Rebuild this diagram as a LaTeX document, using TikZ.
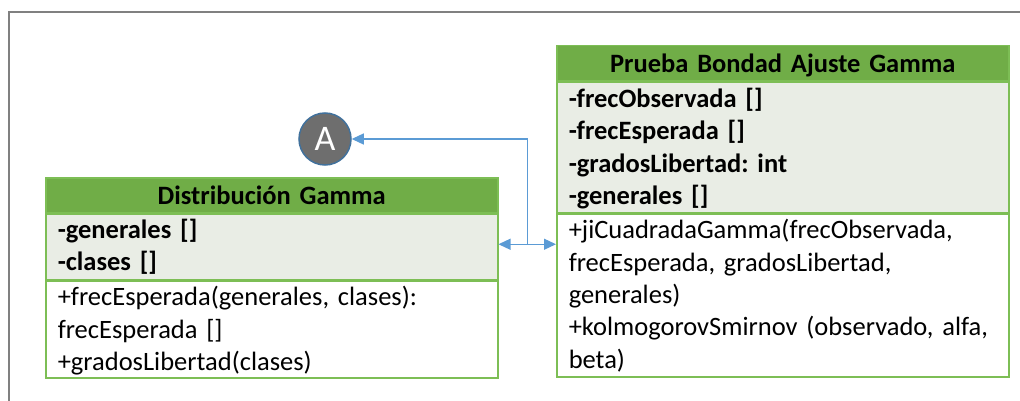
\documentclass[tikz,border=0pt]{standalone}
\usepackage{fontspec}
\setmainfont{Carlito}
\usetikzlibrary{calc,positioning,arrows.meta}
\definecolor{grn}{RGB}{112,173,71}
\definecolor{grnline}{RGB}{125,190,85}
\definecolor{attrbg}{RGB}{233,237,229}
\definecolor{cnblue}{RGB}{91,155,213}
\definecolor{frm}{RGB}{128,128,128}
\frenchspacing

\begin{document}
\begin{tikzpicture}[x=1pt,y=-1pt,
  hdr/.style={draw=grnline,fill=grn,line width=1.5pt,text width=428pt,inner xsep=12pt,inner ysep=0pt,align=center,font=\fontsize{26.5}{32.4}\selectfont\bfseries,text height=26.5pt,text depth=8.5pt},
  attr/.style={draw=grnline,fill=attrbg,line width=1.5pt,text width=428pt,inner xsep=12pt,inner ysep=0pt,align=left,font=\fontsize{26.5}{32.4}\selectfont\bfseries},
  meth/.style={draw=grnline,fill=white,line width=1.5pt,text width=428pt,inner xsep=12pt,inner ysep=0pt,align=left,font=\fontsize{26.5}{32.4}\selectfont},
  cn/.style={draw=cnblue,line width=1.2pt},
  tip/.tip={Triangle[length=12pt,width=11pt]}]
  \useasboundingbox (0,0) rectangle (1020,401);
  \draw[frm,line width=1.5pt] (9,401) -- (9,12) -- (1020,12);

  % Distribucion Gamma
  \node[hdr,anchor=north west] (a1) at (45,177) {Distribución Gamma};
  \node[attr,below=0pt of a1,text height=24pt,text depth=41pt] (a2) {-generales []\\-clases []};
  \node[meth,below=0pt of a2,text height=25pt,text depth=72pt] (a3) {+frecEsperada(generales, clases):\\frecEsperada []\\+gradosLibertad(clases)};

  % Prueba Bondad Ajuste Gamma
  \node[hdr,anchor=north west] (b1) at (556,45) {Prueba Bondad Ajuste Gamma};
  \node[attr,below=0pt of b1,text height=25pt,text depth=105pt] (b2) {-frecObservada []\\-frecEsperada []\\-gradosLibertad: int\\-generales []};
  \node[meth,below=0pt of b2,text height=25pt,text depth=138pt] (b3) {+jiCuadradaGamma(frecObservada,\\frecEsperada, gradosLibertad,\\generales)\\+kolmogorovSmirnov (observado, alfa,\\beta)};

  \node[circle,minimum size=52pt,inner sep=0pt,fill=black!57,draw={rgb,255:red,65;green,113;blue,156},line width=1.5pt,text=white,font=\fontsize{36}{36}\selectfont] (c) at (325,139) {A};

  \coordinate (j) at ($([yshift=2.5pt]a2.east)!0.5!([yshift=2.5pt]a2.east -| b3.west)$);
  \draw[cn,tip-tip] ([yshift=2.5pt]a2.east) -- ([yshift=2.5pt]a2.east -| b3.west);
  \draw[cn,-tip] (j) |- (c);
\end{tikzpicture}
\end{document}
